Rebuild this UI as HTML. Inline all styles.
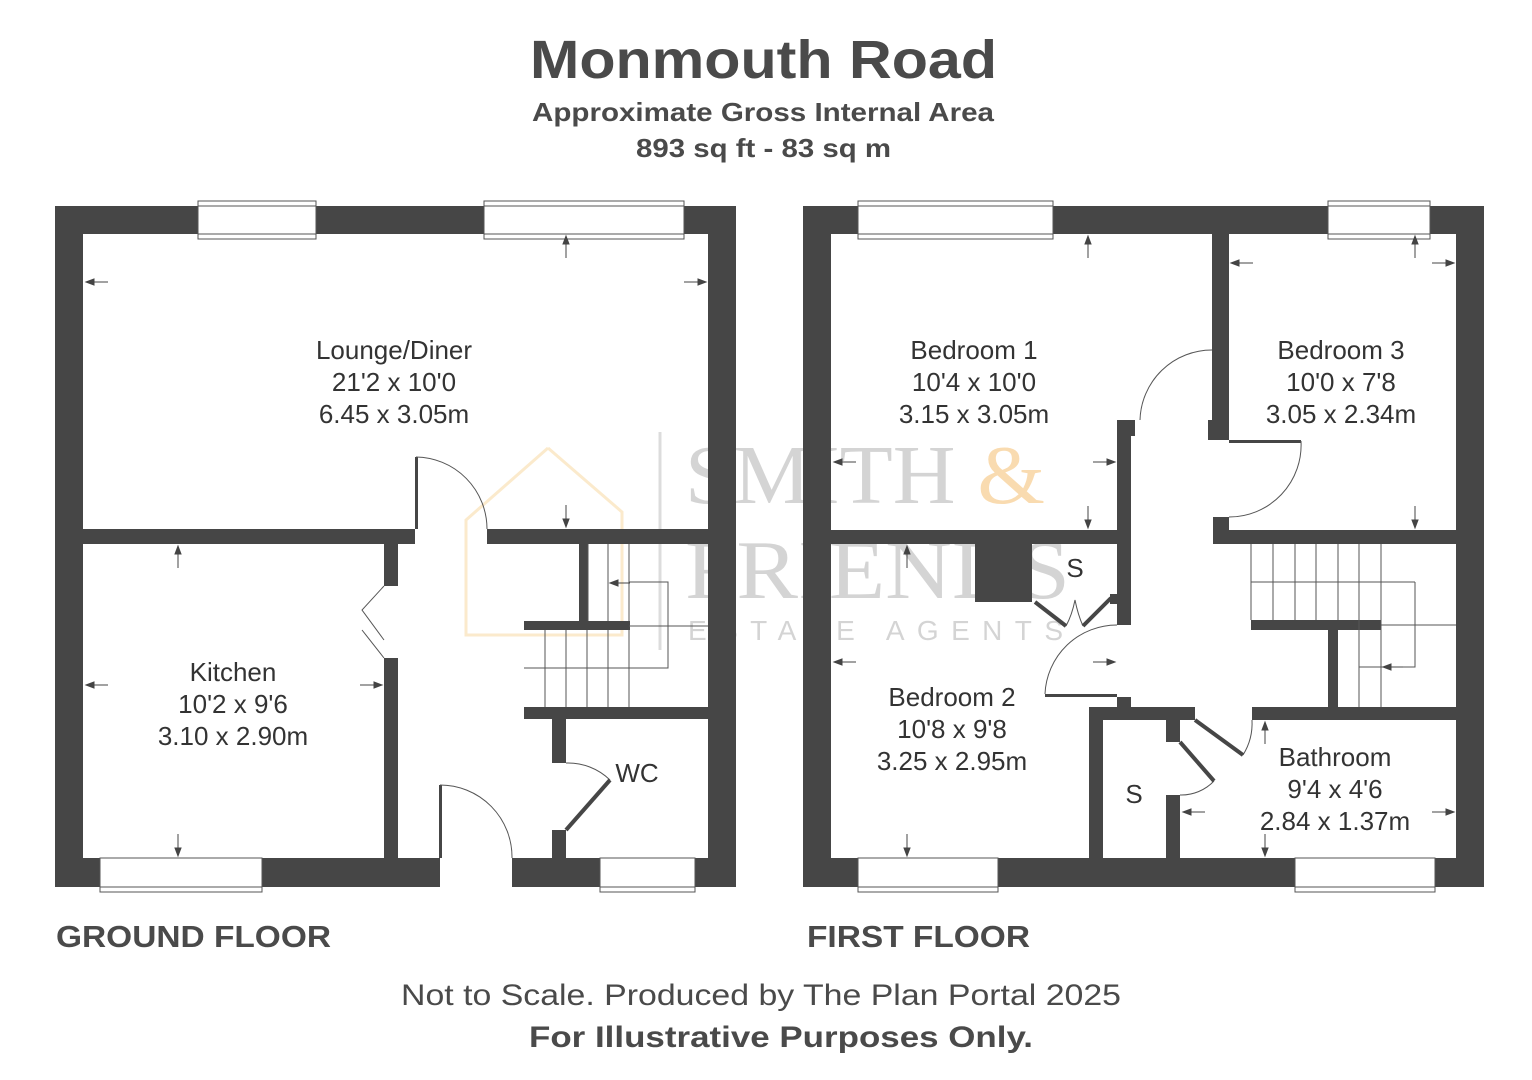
<!DOCTYPE html>
<html><head><meta charset="utf-8"><style>
html,body{margin:0;padding:0;background:#fff;}
svg{display:block;}
</style></head><body>
<svg width="1532" height="1080" viewBox="0 0 1532 1080" xmlns="http://www.w3.org/2000/svg" font-family="Liberation Sans, sans-serif">
<rect width="1532" height="1080" fill="#fff"/>
<!-- titles -->
<text x="530" y="78" font-size="54" font-weight="bold" fill="#4a4a4a" textLength="467" lengthAdjust="spacingAndGlyphs">Monmouth Road</text>
<text x="532" y="121" font-size="26" font-weight="bold" fill="#4a4a4a" textLength="462" lengthAdjust="spacingAndGlyphs">Approximate Gross Internal Area</text>
<text x="636" y="157" font-size="26" font-weight="bold" fill="#4a4a4a" textLength="255" lengthAdjust="spacingAndGlyphs">893 sq ft - 83 sq m</text>

<!-- watermark -->
<g opacity="0.5">
<polyline points="548,448 622,512 622,635 466,635 466,520 548,448" fill="none" stroke="#f7d59a" stroke-width="3"/>
<line x1="660" y1="432" x2="660" y2="650" stroke="#bbb" stroke-width="3"/>
<text x="685" y="503" font-family="Liberation Serif, serif" font-size="84" fill="#aaa" textLength="360" lengthAdjust="spacingAndGlyphs">SMITH <tspan fill="#f5b964">&amp;</tspan></text>
<text x="685" y="598" font-family="Liberation Serif, serif" font-size="84" fill="#aaa" textLength="385" lengthAdjust="spacingAndGlyphs">FRIENDS</text>
<text x="688" y="640" font-size="28" fill="#aaa" textLength="375" lengthAdjust="spacing">ESTATE AGENTS</text>
</g>

<g fill="#464646">
<!-- GROUND FLOOR walls -->
<rect x="55" y="206" width="143" height="28"/>
<rect x="316" y="206" width="168" height="28"/>
<rect x="684" y="206" width="52" height="28"/>
<rect x="55" y="206" width="28" height="681"/>
<rect x="708" y="206" width="28" height="681"/>
<rect x="55" y="858" width="45" height="29"/>
<rect x="262" y="858" width="178" height="29"/>
<rect x="512" y="858" width="88" height="29"/>
<rect x="695" y="858" width="41" height="29"/>
<rect x="83" y="529" width="332" height="15"/>
<rect x="487" y="529" width="221" height="15"/>
<rect x="384" y="544" width="14" height="42"/>
<rect x="384" y="658" width="14" height="200"/>
<rect x="415" y="457" width="3" height="72"/>
<rect x="579" y="544" width="9" height="78"/>
<rect x="524" y="621" width="106" height="9"/>
<rect x="524" y="707" width="184" height="12"/>
<rect x="552" y="719" width="14" height="44"/>
<rect x="552" y="830" width="14" height="28"/>
<rect x="439" y="785" width="3" height="73"/>

<!-- FIRST FLOOR walls -->
<rect x="803" y="206" width="55" height="28"/>
<rect x="1053" y="206" width="275" height="28"/>
<rect x="1430" y="206" width="54" height="28"/>
<rect x="803" y="206" width="28" height="681"/>
<rect x="1456" y="206" width="28" height="681"/>
<rect x="803" y="858" width="55" height="29"/>
<rect x="998" y="858" width="297" height="29"/>
<rect x="1435" y="858" width="49" height="29"/>
<rect x="831" y="530" width="300" height="14"/>
<rect x="1117" y="420" width="14" height="205"/>
<rect x="1117" y="420" width="18" height="16"/>
<rect x="1213" y="234" width="16" height="206"/>
<rect x="1208" y="420" width="8" height="20"/>
<rect x="1212" y="234" width="3" height="190"/>
<rect x="1229" y="440" width="72" height="3"/>
<rect x="1213" y="517" width="16" height="27"/>
<rect x="1213" y="530" width="243" height="14"/>
<rect x="975" y="544" width="57" height="58"/>
<rect x="1110" y="594" width="7" height="10"/>
<rect x="1045" y="694" width="72" height="3"/>
<rect x="1117" y="697" width="14" height="10"/>
<rect x="1089" y="707" width="106" height="13"/>
<rect x="1089" y="707" width="14" height="151"/>
<rect x="1166" y="720" width="14" height="22"/>
<rect x="1166" y="795" width="14" height="63"/>
<rect x="1252" y="707" width="204" height="13"/>
<rect x="1251" y="620" width="130" height="10"/>
<rect x="1328" y="630" width="10" height="77"/>
</g>

<!-- windows -->
<g fill="none" stroke="#555" stroke-width="1">
<rect x="198" y="201" width="118" height="38"/><line x1="198" y1="206" x2="316" y2="206"/><line x1="198" y1="234" x2="316" y2="234"/>
<rect x="484" y="201" width="200" height="38"/><line x1="484" y1="206" x2="684" y2="206"/><line x1="484" y1="234" x2="684" y2="234"/>
<rect x="100" y="858" width="162" height="34"/><line x1="100" y1="887" x2="262" y2="887"/>
<rect x="600" y="858" width="95" height="34"/><line x1="600" y1="887" x2="695" y2="887"/>
<rect x="858" y="201" width="195" height="38"/><line x1="858" y1="206" x2="1053" y2="206"/><line x1="858" y1="234" x2="1053" y2="234"/>
<rect x="1328" y="201" width="102" height="38"/><line x1="1328" y1="206" x2="1430" y2="206"/><line x1="1328" y1="234" x2="1430" y2="234"/>
<rect x="858" y="858" width="140" height="34"/><line x1="858" y1="887" x2="998" y2="887"/>
<rect x="1295" y="858" width="140" height="34"/><line x1="1295" y1="887" x2="1435" y2="887"/>
</g>

<!-- door arcs & stairs -->
<g fill="none" stroke="#555" stroke-width="1">
<path d="M416,457 A72,72 0 0 1 487,529"/>
<path d="M440,785 A72,72 0 0 1 512,858"/>
<path d="M566,763 A60,60 0 0 1 610,780"/>
<path d="M384,586 L362,610 L384,640 M384,658 L362,630"/>
<line x1="588" y1="544" x2="588" y2="621"/>
<line x1="608" y1="544" x2="608" y2="621"/><line x1="629" y1="544" x2="629" y2="621"/>
<polyline points="629,582 668,582 668,668 524,668"/>
<line x1="629" y1="626" x2="708" y2="626"/>
<line x1="545" y1="630" x2="545" y2="707"/><line x1="566" y1="630" x2="566" y2="707"/><line x1="587" y1="630" x2="587" y2="707"/><line x1="608" y1="630" x2="608" y2="707"/><line x1="629" y1="630" x2="629" y2="707"/>
<path d="M1212,350 A72,72 0 0 0 1140,420"/>
<path d="M1301,441 A72,72 0 0 1 1229,517"/>
<path d="M1045,694 A72,72 0 0 1 1117,625"/>
<path d="M1066,626 Q1072,615 1075,600 Q1078,615 1083,626"/>
<path d="M1180,795 A45,45 0 0 0 1214,781"/>
<path d="M1252,720 A60,60 0 0 1 1243,755"/>
<line x1="1251" y1="544" x2="1251" y2="620"/>
<line x1="1273" y1="544" x2="1273" y2="620"/><line x1="1295" y1="544" x2="1295" y2="620"/><line x1="1316" y1="544" x2="1316" y2="620"/><line x1="1338" y1="544" x2="1338" y2="620"/><line x1="1359" y1="544" x2="1359" y2="620"/><line x1="1381" y1="544" x2="1381" y2="707"/>
<line x1="1251" y1="582" x2="1415" y2="582"/>
<polyline points="1415,582 1415,667 1359,667"/>
<line x1="1359" y1="620" x2="1359" y2="707"/>
<line x1="1381" y1="625" x2="1456" y2="625"/>
</g>
<g stroke="#464646" stroke-width="4" fill="none">
<line x1="566" y1="830" x2="610" y2="780"/>
<line x1="1035" y1="602" x2="1066" y2="626"/>
<line x1="1111" y1="598" x2="1083" y2="626"/>
<line x1="1195" y1="720" x2="1243" y2="755"/>
<line x1="1180" y1="742" x2="1214" y2="781"/>
</g>

<!-- dimension arrows -->
<g stroke="#444" stroke-width="1" fill="#444">
<line x1="86" y1="282" x2="108" y2="282"/><polygon points="86,282 94,279 94,285"/>
<line x1="684" y1="282" x2="706" y2="282"/><polygon points="706,282 698,279 698,285"/>
<line x1="566" y1="236" x2="566" y2="258"/><polygon points="566,236 563,244 569,244"/>
<line x1="566" y1="505" x2="566" y2="527"/><polygon points="566,527 563,519 569,519"/>
<line x1="178" y1="546" x2="178" y2="568"/><polygon points="178,546 175,554 181,554"/>
<line x1="178" y1="834" x2="178" y2="856"/><polygon points="178,856 175,848 181,848"/>
<line x1="86" y1="685" x2="108" y2="685"/><polygon points="86,685 94,682 94,688"/>
<line x1="360" y1="685" x2="382" y2="685"/><polygon points="382,685 374,682 374,688"/>
<line x1="610" y1="583" x2="630" y2="583"/><polygon points="610,583 618,580 618,586"/>
<line x1="834" y1="462" x2="856" y2="462"/><polygon points="834,462 842,459 842,465"/>
<line x1="1093" y1="462" x2="1115" y2="462"/><polygon points="1115,462 1107,459 1107,465"/>
<line x1="1088" y1="236" x2="1088" y2="258"/><polygon points="1088,236 1085,244 1091,244"/>
<line x1="1088" y1="506" x2="1088" y2="528"/><polygon points="1088,528 1085,520 1091,520"/>
<line x1="1231" y1="263" x2="1253" y2="263"/><polygon points="1231,263 1239,260 1239,266"/>
<line x1="1432" y1="263" x2="1454" y2="263"/><polygon points="1454,263 1446,260 1446,266"/>
<line x1="1415" y1="236" x2="1415" y2="258"/><polygon points="1415,236 1412,244 1418,244"/>
<line x1="1415" y1="506" x2="1415" y2="528"/><polygon points="1415,528 1412,520 1418,520"/>
<line x1="907" y1="546" x2="907" y2="568"/><polygon points="907,546 904,554 910,554"/>
<line x1="907" y1="834" x2="907" y2="856"/><polygon points="907,856 904,848 910,848"/>
<line x1="834" y1="662" x2="856" y2="662"/><polygon points="834,662 842,659 842,665"/>
<line x1="1093" y1="662" x2="1115" y2="662"/><polygon points="1115,662 1107,659 1107,665"/>
<line x1="1383" y1="667" x2="1403" y2="667"/><polygon points="1383,667 1391,664 1391,670"/>
<line x1="1265" y1="722" x2="1265" y2="744"/><polygon points="1265,722 1262,730 1268,730"/>
<line x1="1265" y1="834" x2="1265" y2="856"/><polygon points="1265,856 1262,848 1268,848"/>
<line x1="1183" y1="812" x2="1205" y2="812"/><polygon points="1183,812 1191,809 1191,815"/>
<line x1="1432" y1="812" x2="1454" y2="812"/><polygon points="1454,812 1446,809 1446,815"/>
</g>

<!-- room labels -->
<g font-size="26" fill="#333" text-anchor="middle">
<text x="394" y="359">Lounge/Diner</text><text x="394" y="391">21'2 x 10'0</text><text x="394" y="423">6.45 x 3.05m</text>
<text x="233" y="681">Kitchen</text><text x="233" y="713">10'2 x 9'6</text><text x="233" y="745">3.10 x 2.90m</text>
<text x="637" y="782">WC</text>
<text x="974" y="359">Bedroom 1</text><text x="974" y="391">10'4 x 10'0</text><text x="974" y="423">3.15 x 3.05m</text>
<text x="1341" y="359">Bedroom 3</text><text x="1341" y="391">10'0 x 7'8</text><text x="1341" y="423">3.05 x 2.34m</text>
<text x="952" y="706">Bedroom 2</text><text x="952" y="738">10'8 x 9'8</text><text x="952" y="770">3.25 x 2.95m</text>
<text x="1335" y="766">Bathroom</text><text x="1335" y="798">9'4 x 4'6</text><text x="1335" y="830">2.84 x 1.37m</text>
<text x="1075" y="577">S</text>
<text x="1134" y="803">S</text>
</g>

<text x="56" y="947" font-size="31" font-weight="bold" fill="#4a4a4a" textLength="275" lengthAdjust="spacingAndGlyphs">GROUND FLOOR</text>
<text x="807" y="947" font-size="31" font-weight="bold" fill="#4a4a4a" textLength="223" lengthAdjust="spacingAndGlyphs">FIRST FLOOR</text>
<text x="401" y="1005" font-size="30" fill="#4a4a4a" textLength="720" lengthAdjust="spacingAndGlyphs">Not to Scale. Produced by The Plan Portal 2025</text>
<text x="529" y="1047" font-size="30" font-weight="bold" fill="#4a4a4a" textLength="504" lengthAdjust="spacingAndGlyphs">For Illustrative Purposes Only.</text>
</svg>
</body></html>
